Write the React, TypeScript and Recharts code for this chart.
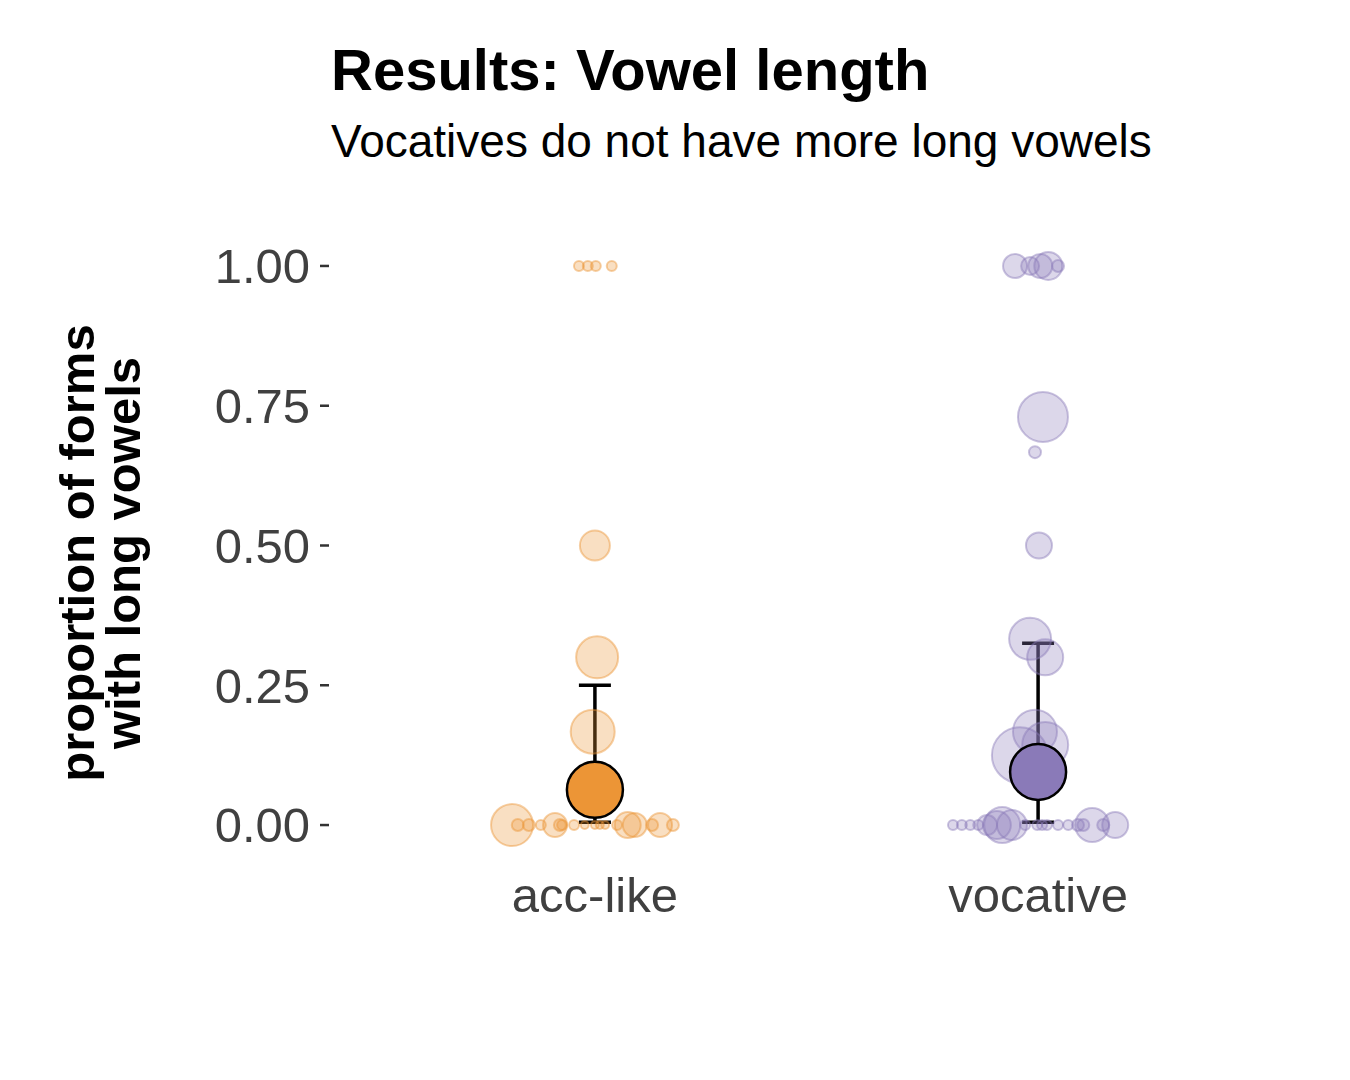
import React from 'react';
import { ComposedChart, Scatter, XAxis, YAxis, ErrorBar } from 'recharts';

const categories = ['acc-like', 'vocative'];
const yTicks = [0, 0.25, 0.5, 0.75, 1];

// [jitter (category units), proportion, weight]
const accPoints: [number, number, number][] = [
  [-0.187, 0, 21], [-0.174, 0, 6], [-0.149, 0, 6], [-0.122, 0, 5], [-0.09, 0, 12], [-0.079, 0, 6],
  [-0.074, 0, 5], [-0.047, 0, 5], [-0.023, 0, 4], [0, 0, 4], [0.011, 0, 4], [0.023, 0, 4],
  [0.05, 0, 5], [0.074, 0, 13], [0.09, 0, 12], [0.129, 0, 6], [0.147, 0, 12], [0.176, 0, 6],
  [-0.036, 1, 5], [-0.016, 1, 5], [0.002, 1, 5], [0.038, 1, 5],
  [0, 0.5, 15], [0.005, 0.3, 21], [-0.005, 0.167, 22], [0.007, 0.07, 21],
];
const vocPoints: [number, number, number][] = [
  [-0.192, 0, 5], [-0.172, 0, 5], [-0.153, 0, 5], [-0.135, 0, 5], [-0.115, 0, 10], [-0.093, 0, 14],
  [-0.081, 0, 18], [-0.059, 0, 15], [-0.029, 0, 5], [-0.002, 0, 5], [0.009, 0, 5], [0.02, 0, 5],
  [0.045, 0, 5], [0.068, 0, 5], [0.09, 0, 6], [0.102, 0, 6], [0.122, 0, 17], [0.147, 0, 6], [0.174, 0, 13],
  [-0.052, 1, 12], [-0.018, 1, 9], [0.005, 1, 12], [0.023, 1, 14], [0.045, 1, 6],
  [0.011, 0.73, 25], [-0.007, 0.667, 6], [0.002, 0.5, 13], [-0.018, 0.333, 21], [0.016, 0.3, 18],
  [-0.007, 0.167, 22], [0.016, 0.143, 23], [-0.041, 0.125, 28],
];
const means = [0.063, 0.095];
const ciLow = [0.005, 0.005];
const ciHigh = [0.25, 0.325];

const accData = accPoints.map(([j, y, w]) => ({ x: 1 + j, y, w }));
const vocData = vocPoints.map(([j, y, w]) => ({ x: 2 + j, y, w }));
const meanData = means.map((m, i) => ({ x: i + 1, y: m, err: [m - ciLow[i], ciHigh[i] - m] }));

const COLORS = { acc: '#EC9536', voc: '#8A7AB8' };

const dot = (color: string) => (p: any) => (
  <circle cx={p.cx} cy={p.cy} r={p.payload.w} fill={color} fillOpacity={0.3} stroke={color} strokeOpacity={0.45} strokeWidth={2} />
);
const meanDot = (p: any) => (
  <circle cx={p.cx} cy={p.cy} r={28} fill={p.payload.x === 1 ? COLORS.acc : COLORS.voc} stroke="#000" strokeWidth={2.5} />
);

const font = '"Liberation Sans", Arial, sans-serif';

export default function App() {
  return (
    <div style={{ position: 'absolute', left: 0, top: 0, width: 1350, height: 1080, background: '#fff', fontFamily: font }}>
      <ComposedChart width={1350} height={1080} margin={{ top: 238, right: 46, bottom: 167, left: 229 }}>
        <XAxis type="number" dataKey="x" domain={[0.4, 2.6]} ticks={[1, 2]} tickFormatter={(v: number) => categories[v - 1]}
          axisLine={false} tickLine={false} height={60} tick={{ fontSize: 49, fill: '#404040', fontFamily: font }} tickMargin={18} />
        <YAxis type="number" dataKey="y" domain={[-0.05, 1.05]} ticks={yTicks} tickFormatter={(v: number) => v.toFixed(2)}
          axisLine={false} tickLine={{ stroke: '#333', strokeWidth: 2.5 }} tickSize={9} width={100}
          tick={{ fontSize: 49, fill: '#404040', fontFamily: font }} tickMargin={10} />
        <Scatter data={accData} shape={dot(COLORS.acc)} isAnimationActive={false} />
        <Scatter data={vocData} shape={dot(COLORS.voc)} isAnimationActive={false} />
        <Scatter data={meanData} shape={() => null} isAnimationActive={false}>
          <ErrorBar dataKey="err" direction="y" width={16} stroke="#000" strokeWidth={3.5} />
        </Scatter>
        <Scatter data={meanData} shape={meanDot} isAnimationActive={false} />
      </ComposedChart>
      <div style={{ position: 'absolute', left: 331, top: 36, fontSize: 58, fontWeight: 'bold', color: '#000', whiteSpace: 'nowrap' }}>Results: Vowel length</div>
      <div style={{ position: 'absolute', left: 331, top: 114, fontSize: 46, color: '#000', whiteSpace: 'nowrap' }}>Vocatives do not have more long vowels</div>
      <div style={{ position: 'absolute', left: 100, top: 553, transform: 'translate(-50%, -50%) rotate(-90deg)', fontSize: 49, fontWeight: 'bold', lineHeight: '46px', textAlign: 'center', whiteSpace: 'nowrap', color: '#000' }}>
        proportion of forms<br />with long vowels
      </div>
    </div>
  );
}
